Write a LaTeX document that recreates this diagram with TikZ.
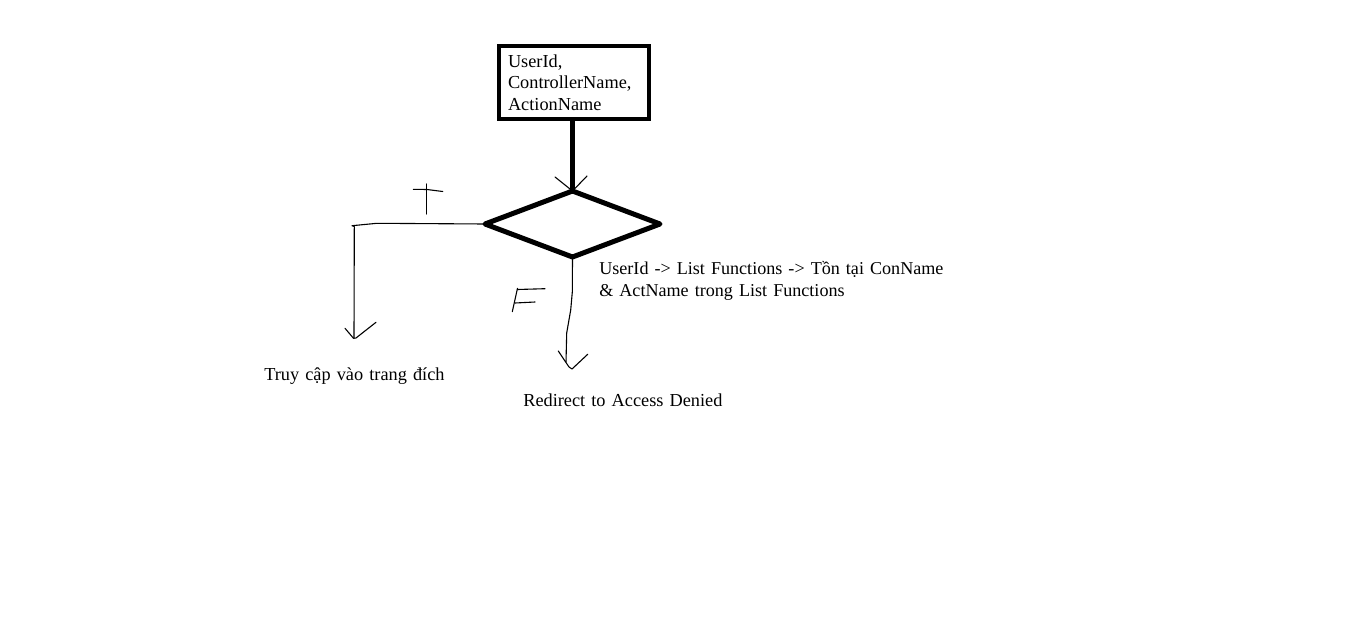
\documentclass[tikz,border=0pt]{standalone}
\usepackage{fontspec}
\setmainfont{Liberation Serif}
\usetikzlibrary{shapes.geometric,calc}
\begin{document}
\begin{tikzpicture}[x=1pt,y=-1pt,
  every node/.style={font=\fontsize{18.3}{21.2}\selectfont, inner sep=0pt, outer sep=0pt},
  inbox/.style={draw, rectangle, line width=4pt, minimum width=149.5pt, minimum height=72.5pt,
    inner xsep=9pt, text width=131.5pt, align=left},
  decision/.style={draw, diamond, line width=5pt, line join=round, minimum width=175pt, minimum height=66pt},
  lbl/.style={anchor=base west, align=left},
  thinline/.style={line width=1.1pt, line join=round, line cap=round},
  thickline/.style={line width=5pt},
]
\path[use as bounding box, fill=white] (0,0) rectangle (1348,623);

% nodes
\node[inbox] (in) at (573.75,82.6) {UserId,\\ControllerName,\\ActionName};
\node[decision] (dia) at (572.5,224) {};
\node[lbl, text width=360pt, font=\fontsize{18.1}{21.4}\selectfont] (cond) at (599.3,274.8) {UserId -> List Functions -> Tồn tại ConName\\\& ActName trong List Functions};
\node[lbl, text width=200pt] (tgt) at (264.3,380.3) {Truy cập vào trang đích};
\node[lbl, text width=220pt] (deny) at (523.3,406) {Redirect to Access Denied};

% input -> decision
\draw[thickline] (dia.north |- in.south) -- (dia.north);
\draw[thinline] ($(dia.north)+(-17.5,-14)$) -- (dia.north) -- ($(dia.north)+(14.5,-15)$);

% T branch
\coordinate (tend) at (354,338);
\draw[thinline] (dia.west) -- (377,223.3) -- (352,225.7) -- (354.3,226.5) -- (tend);
\draw[thinline] ($(tend)+(-9,-9.7)$) -- ($(tend)+(-0.5,0.3)$) -- ($(tend)+(2,0)$) -- ($(tend)+(22,-15.7)$);
% hand-drawn T
\draw[thinline] (413.3,189.3) -- (427,189.5) -- (442.7,191.5);
\draw[thinline] (426.7,184) -- (426.7,214);

% F branch
\coordinate (fend) at (566,362);
\draw[thinline] (dia.south) -- (572.3,292) -- (570.7,310) -- (566.7,333) -- (fend);
\draw[thinline] (558.3,351) -- (569,367) -- (572,369) -- (587.7,354.3);
% hand-drawn F
\draw[thinline] (545,288.7) -- (517.5,289.5);
\draw[thinline] (517.5,288.3) -- (512.3,311.7);
\draw[thinline] (515,303) -- (535,302);
\end{tikzpicture}
\end{document}
